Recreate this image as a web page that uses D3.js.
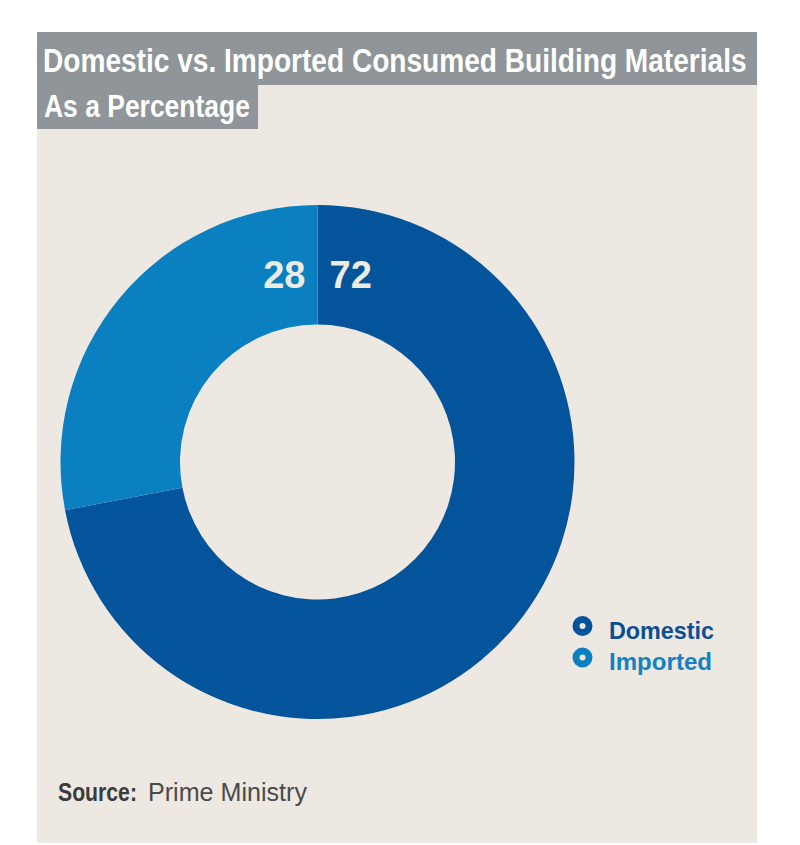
<!DOCTYPE html>
<html>
<head>
<meta charset="utf-8">
<script src="https://cdn.jsdelivr.net/npm/d3@7"></script>
<style>
  body { margin: 0; background: #fff; }
  svg text { font-family: "Liberation Sans Narrow", "Liberation Sans", Arial, sans-serif; }
</style>
</head>
<body>
<svg id="chart"></svg>
<script>
// data
const categories = ['Domestic', 'Imported'];
const values = [72, 28];
const colors = ['#04549b', '#0a80c1'];
const textColors = ['#0a4f94', '#1282c3'];

const title = 'Domestic vs. Imported Consumed Building Materials';
const subtitle = 'As a Percentage';
const sourceLabel = 'Source:';
const sourceText = 'Prime Ministry';

const config = {
  width: 800,
  height: 845,
  panel: {x: 37, y: 32, w: 720, h: 811},
  center: {x: 317.5, y: 462},
  outerR: 257,
  innerR: 137.5
};

const svg = d3.select('#chart')
  .attr('width', config.width)
  .attr('height', config.height);

// beige panel
svg.append('rect')
  .attr('x', config.panel.x).attr('y', config.panel.y)
  .attr('width', config.panel.w).attr('height', config.panel.h)
  .attr('fill', '#ede8e1');

// title bars
svg.append('rect')
  .attr('x', 37).attr('y', 32).attr('width', 720).attr('height', 53)
  .attr('fill', '#8f9598');
svg.append('rect')
  .attr('x', 37).attr('y', 85).attr('width', 221).attr('height', 44)
  .attr('fill', '#8f9598');

// squeeze a text horizontally so it spans the wanted width
function fitText(sel, x, y, width) {
  const natural = sel.node().getComputedTextLength();
  const k = width / natural;
  sel.attr('transform', `translate(${x}, ${y}) scale(${k}, 1)`);
}

const titleText = svg.append('text')
  .attr('fill', '#fff')
  .attr('font-size', 33)
  .attr('font-weight', 'bold')
  .text(title);
fitText(titleText, 43, 72, 704);

const subText = svg.append('text')
  .attr('fill', '#fff')
  .attr('font-size', 31)
  .attr('font-weight', 'bold')
  .text(subtitle);
fitText(subText, 44, 117, 206);

// donut
const pie = d3.pie().sort(null).value(d => d.value);
const arcs = pie(categories.map((c, i) => ({name: c, value: values[i], i: i})));

const arc = d3.arc()
  .innerRadius(config.innerR)
  .outerRadius(config.outerR);

const g = svg.append('g')
  .attr('transform', `translate(${config.center.x}, ${config.center.y})`);

g.selectAll('.slice')
  .data(arcs)
  .join('path')
  .attr('class', 'slice')
  .attr('d', arc)
  .attr('fill', d => colors[d.data.i]);

// value labels either side of the top boundary
const labelR = 188;
g.selectAll('.value')
  .data(arcs)
  .join('text')
  .attr('class', 'value')
  .attr('x', d => {
    const a = d.data.i === 0 ? d.startAngle : d.endAngle;
    const p = d3.pointRadial(a, labelR);
    return p[0] + (d.data.i === 0 ? 12 : -12);
  })
  .attr('y', d => {
    const a = d.data.i === 0 ? d.startAngle : d.endAngle;
    return d3.pointRadial(a, labelR)[1] + 14;
  })
  .attr('text-anchor', d => d.data.i === 0 ? 'start' : 'end')
  .attr('fill', '#eeeae4')
  .attr('font-family', '"Liberation Sans", Arial, sans-serif')
  .attr('font-weight', 'bold')
  .attr('font-size', 38)
  .text(d => d.data.value);

// legend
const legend = svg.append('g')
  .attr('transform', 'translate(582.5, 626)');

const rows = legend.selectAll('.row')
  .data(categories)
  .join('g')
  .attr('class', 'row')
  .attr('transform', (d, i) => `translate(0, ${i * 31.5})`);

rows.append('circle')
  .attr('r', 6.5)
  .attr('fill', 'none')
  .attr('stroke', (d, i) => colors[i])
  .attr('stroke-width', 7);

rows.append('text')
  .attr('x', 26.5)
  .attr('y', 12.5)
  .attr('fill', (d, i) => textColors[i])
  .attr('font-family', '"DejaVu Sans", sans-serif')
  .attr('font-weight', 'bold')
  .attr('font-size', 24)
  .attr('textLength', (d, i) => i === 0 ? 105 : 103)
  .attr('lengthAdjust', 'spacingAndGlyphs')
  .text(d => d);

// source line
const src = svg.append('text')
  .attr('x', 58).attr('y', 801)
  .attr('font-size', 25);
src.append('tspan')
  .attr('fill', '#3b3b3b')
  .attr('font-weight', 'bold')
  .attr('textLength', 79)
  .attr('lengthAdjust', 'spacingAndGlyphs')
  .text(sourceLabel);
src.append('tspan')
  .attr('x', 148)
  .attr('fill', '#4a4a4a')
  .attr('textLength', 159)
  .attr('lengthAdjust', 'spacingAndGlyphs')
  .text(sourceText);
</script>
</body>
</html>
